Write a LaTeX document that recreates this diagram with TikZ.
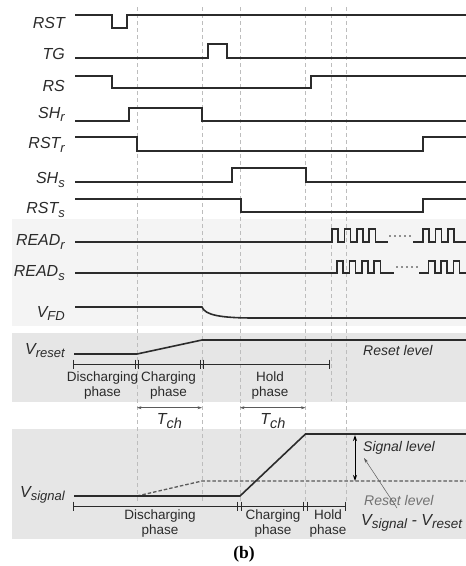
\documentclass[tikz,border=0pt]{standalone}
\usepackage{fontspec}
\setmainfont{Liberation Sans}
\newfontfamily\capfont{Liberation Serif}
\usetikzlibrary{arrows.meta}
\definecolor{bandlight}{HTML}{f4f4f4}
\definecolor{banddark}{HTML}{e6e6e6}
\definecolor{wave}{HTML}{2b2b2b}
\definecolor{guide}{HTML}{bdbdbd}
\definecolor{softgray}{HTML}{5a5a5a}
% lowered subscript, size in pt
\newcommand\lsub[2][13]{\raisebox{-3.5pt}{\fontsize{#1}{#1}\selectfont\itshape #2}}

\tikzset{
  sig/.style={line width=1.6pt, wave, line join=miter},
  lbl/.style={anchor=base east, inner sep=0pt, text=wave, font=\fontsize{16}{18}\selectfont\itshape},
  guideline/.style={guide, line width=0.7pt, dash pattern=on 4pt off 3pt},
  phasebar/.style={line width=0.9pt, wave},
  phasetxt/.style={align=center, inner sep=0pt, text=wave, font=\fontsize{13.5}{15.3}\selectfont},
  leveltxt/.style={anchor=base west, inner sep=0pt, font=\fontsize{14}{16}\selectfont\itshape},
  dimarrow/.style={line width=0.6pt, softgray, {Stealth[length=4.5pt,width=3pt]}-{Stealth[length=4.5pt,width=3pt]}}
}

\begin{document}
\begin{tikzpicture}[x=1pt, y=-1pt]
  \useasboundingbox (0,0) rectangle (466,566);

  % shaded bands
  \fill[bandlight] (12,219) rectangle (466,326);
  \fill[banddark] (12,333) rectangle (466,402);
  \fill[banddark] (12,429) rectangle (466,539);

  % phase boundaries
  \foreach \xg/\yend in {137/503, 202/503, 240/503, 305.5/503, 331/401, 346.5/503}
    \draw[guideline] (\xg,7) -- (\xg,\yend);

  % signal names
  \foreach \nm/\yb/\txt in {RST/28.3/RST, TG/59/TG, RS/91/RS, SHr/118/{SH\lsub{r}},
      RSTr/148.5/{RST\lsub{r}}, SHs/183.5/{SH\lsub{s}}, RSTs/213.5/{RST\lsub{s}},
      READr/245.5/{READ\lsub{r}}, READs/276.5/{READ\lsub{s}}, VFD/317/{V\lsub{FD}},
      Vreset/354/{V\lsub{reset}}, Vsignal/497/{V\lsub{signal}}}
    \node[lbl] (l\nm) at (65,\yb) {\txt};

  % control waveforms
  \draw[sig] (75,15) -- (112,15) -- (112,28) -- (127,28) -- (127,15) -- (466,15); % RST
  \draw[sig] (75,58) -- (208,58) -- (208,44) -- (227,44) -- (227,58) -- (466,58); % TG
  \draw[sig] (75,76) -- (112,76) -- (112,88) -- (311,88) -- (311,76) -- (466,76); % RS
  \draw[sig] (75,121) -- (129,121) -- (129,108) -- (202,108) -- (202,121) -- (466,121); % SHr
  \draw[sig] (75,137) -- (137,137) -- (137,151) -- (423,151) -- (423,137) -- (466,137); % RSTr
  \draw[sig] (75,182) -- (232,182) -- (232,168) -- (306,168) -- (306,182) -- (466,182); % SHs
  \draw[sig] (75,199) -- (241,199) -- (241,212) -- (423,212) -- (423,199) -- (466,199); % RSTs

  % read pulse trains
  \draw[sig] (75,242) -- (332,242)
    \foreach \k in {1,...,4} {-- ++(0,-13) -- ++(6.2,0) -- ++(0,13) -- ++(6.2,0)} -- (388,242);
  \draw[sig] (413,242) -- (423,242)
    \foreach \k in {1,...,3} {-- ++(0,-13) -- ++(6.2,0) -- ++(0,13) -- ++(6.2,0)} -- (466,242);
  \foreach \d in {0,...,4}
    \fill[wave] (390+5*\d,236) circle (0.9);
  \draw[sig] (75,273) -- (337,273)
    \foreach \k in {1,...,4} {-- ++(0,-12) -- ++(6.2,0) -- ++(0,12) -- ++(6.2,0)} -- (394,273);
  \draw[sig] (419,273) -- (428.5,273)
    \foreach \k in {1,...,3} {-- ++(0,-12) -- ++(6.2,0) -- ++(0,12) -- ++(6.2,0)} -- (466,273);
  \foreach \d in {0,...,4}
    \fill[wave] (397+5*\d,267) circle (0.9);

  % floating diffusion
  \draw[sig] (75,307) -- (202,307) .. controls (205,315) and (220,318) .. (255,318) -- (466,318);

  % reset sampling
  \draw[sig] (74,354) -- (137,354) -- (202,340) -- (466,340);
  \node[leveltxt, text=wave] (rstlvl) at (363,355) {Reset level};
  \draw[phasebar] (73,364) -- (329,364);
  \foreach \xt in {73, 135, 138.5, 200, 203.5, 329}
    \draw[phasebar] (\xt,359.5) -- (\xt,368.5);
  \node[phasetxt] (rdis) at (102.5,385.3) {Discharging\\phase};
  \node[phasetxt] (rchg) at (168.5,385.3) {Charging\\phase};
  \node[phasetxt] (rhld) at (270,385.3) {Hold\\phase};

  % charging times
  \draw[dimarrow] (137,407.7) -- (202,407.7);
  \draw[dimarrow] (240,407.7) -- (305.5,407.7);
  \node[inner sep=0pt, text=wave, font=\fontsize{16}{18}\selectfont\itshape] (tch1) at (169.5,421) {T\lsub[14.5]{ch}};
  \node[inner sep=0pt, text=wave, font=\fontsize{16}{18}\selectfont\itshape] (tch2) at (273,421) {T\lsub[14.5]{ch}};

  % signal sampling
  \draw[softgray, line width=1.3pt, dash pattern=on 3.5pt off 2pt] (137,496) -- (202,481) -- (466,481);
  \draw[sig] (74,496) -- (240,496) -- (305.5,434) -- (466,434);
  \draw[line width=1pt, black, {Stealth[length=6pt,width=4pt]}-{Stealth[length=6pt,width=4pt]}] (355,435) -- (355,481);
  \node[leveltxt, text=wave] (siglvl) at (363,451) {Signal level};
  \node[leveltxt, text=softgray!85] (rstlvl2) at (364,505) {Reset level};
  \draw[line width=0.5pt, softgray, -{Stealth[length=5pt,width=3pt]}] (397,508) -- (364,458);
  \node[leveltxt, text=wave, font=\fontsize{16}{18}\selectfont\itshape] (diff) at (361,525)
    {V\lsub[13.5]{signal} - V\lsub[13.5]{reset}};
  \draw[phasebar] (73,506) -- (345,506);
  \foreach \xt in {73, 237, 241, 303, 307, 345}
    \draw[phasebar] (\xt,501.5) -- (\xt,510.5);
  \node[phasetxt] (sdis) at (160,523.3) {Discharging\\phase};
  \node[phasetxt] (schg) at (273,523.3) {Charging\\phase};
  \node[phasetxt] (shld) at (328,523.3) {Hold\\phase};

  % caption
  \node[inner sep=0pt, font=\capfont\bfseries\fontsize{17.5}{19}\selectfont] (cap) at (244,554) {(b)};
\end{tikzpicture}
\end{document}
